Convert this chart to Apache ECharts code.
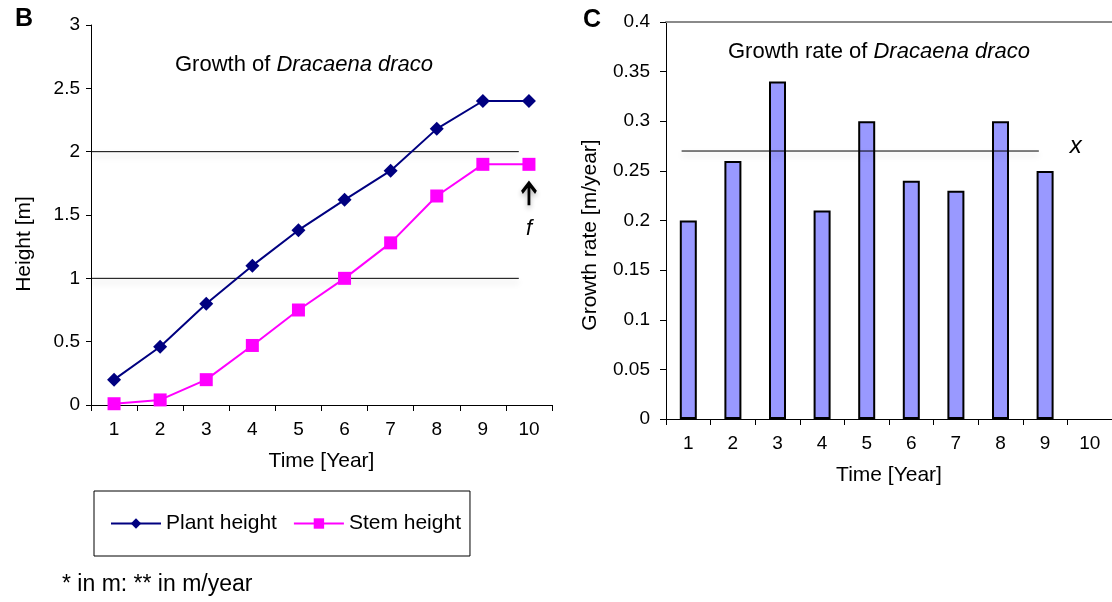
<!DOCTYPE html>
<html>
<head>
<meta charset="utf-8">
<script src="https://cdn.jsdelivr.net/npm/echarts@6/dist/echarts.min.js"></script>
<style>
html,body{margin:0;padding:0;background:#fff;}
#chart{width:1112px;height:602px;}
</style>
</head>
<body>
<div id="chart"></div>
<script>
// ---- data ----
const years = ['1','2','3','4','5','6','7','8','9','10'];
const plantHeight = [0.2, 0.46, 0.8, 1.1, 1.38, 1.62, 1.85, 2.18, 2.4, 2.4];
const stemHeight = [0.01, 0.04, 0.2, 0.47, 0.75, 1.0, 1.28, 1.65, 1.9, 1.9];
const growthRate = [0.2, 0.26, 0.34, 0.21, 0.3, 0.24, 0.23, 0.3, 0.25, null];
const heightAxis = {min: 0, max: 3, interval: 0.5};
const rateAxis = {min: 0, max: 0.4, interval: 0.05};
const heightRefLevels = [1, 2];
const heightRefSpan = [0.5, 9.78];
const rateRefLevel = 0.27;
const rateRefSpan = [0.85, 8.86];

const FONT = "'Liberation Sans', Arial, sans-serif";
const refShadow = {shadowColor: 'rgba(0,0,0,0.22)', shadowBlur: 6, shadowOffsetY: 4};

const chart = echarts.init(document.getElementById('chart'), null, {renderer: 'canvas'});

const catAxisCommon = {
  type: 'category',
  data: years,
  boundaryGap: true,
  axisLine: {lineStyle: {color: '#000', width: 1}},
  axisTick: {show: true, interval: 0, length: 6, lineStyle: {color: '#000'}},
  axisLabel: {interval: 0, color: '#000', fontSize: 19, fontFamily: FONT, margin: 15},
  nameLocation: 'middle',
  nameGap: 46,
  nameTextStyle: {color: '#000', fontSize: 21, fontFamily: FONT},
  splitLine: {show: false}
};

const option = {
  animation: false,
  backgroundColor: '#fff',
  textStyle: {fontFamily: FONT},
  grid: [
    {left: 91, top: 25, width: 461, height: 380},
    {left: 666, top: 22, width: 451, height: 397}
  ],
  xAxis: [
    Object.assign({}, catAxisCommon, {gridIndex: 0, name: 'Time [Year]'}),
    {type: 'value', gridIndex: 0, min: 0.5, max: 10.5, show: false},
    Object.assign({}, catAxisCommon, {gridIndex: 1, name: 'Time [Year]'}),
    {type: 'value', gridIndex: 1, min: 0.5, max: 10.5, position: 'top',
     axisLine: {show: true, lineStyle: {color: '#8a8a8a', width: 2}},
     axisTick: {show: false}, axisLabel: {show: false}, splitLine: {show: false}}
  ],
  yAxis: [
    {type: 'value', gridIndex: 0, min: heightAxis.min, max: heightAxis.max, interval: heightAxis.interval,
     name: 'Height [m]', nameLocation: 'middle', nameGap: 56,
     nameTextStyle: {color: '#000', fontSize: 21, fontFamily: FONT, padding: [0, 58, 0, 0]},
     axisLine: {show: true, lineStyle: {color: '#000', width: 1}},
     axisTick: {show: true, length: 5, lineStyle: {color: '#000'}},
     axisLabel: {color: '#000', fontSize: 19, fontFamily: FONT, margin: 11},
     splitLine: {show: false}},
    {type: 'value', gridIndex: 1, min: rateAxis.min, max: rateAxis.max, interval: rateAxis.interval,
     name: 'Growth rate [m/year]', nameLocation: 'middle', nameGap: 65,
     nameTextStyle: {color: '#000', fontSize: 21, fontFamily: FONT, padding: [0, 29, 0, 0]},
     axisLine: {show: true, lineStyle: {color: '#000', width: 1}},
     axisTick: {show: true, length: 6, lineStyle: {color: '#000'}},
     axisLabel: {color: '#000', fontSize: 19, fontFamily: FONT, margin: 16},
     splitLine: {show: false}}
  ],
  legend: {
    data: ['Plant height', 'Stem height'],
    left: 94, top: 491,
    orient: 'horizontal',
    padding: [22, 9, 22, 16],
    itemGap: 16,
    itemWidth: 50,
    itemHeight: 13,
    borderColor: '#000',
    borderWidth: 1,
    textStyle: {color: '#000', fontSize: 21, fontFamily: FONT}
  },
  series: [
    // reference lines in height chart
    ...heightRefLevels.map(function (lv) {
      return {
        type: 'line', xAxisIndex: 1, yAxisIndex: 0, silent: true,
        symbol: 'none', z: 1,
        lineStyle: Object.assign({color: '#000', width: 1}, refShadow),
        data: [[heightRefSpan[0], lv], [heightRefSpan[1], lv]]
      };
    }),
    {
      name: 'Plant height', type: 'line', xAxisIndex: 0, yAxisIndex: 0,
      data: plantHeight,
      symbol: 'diamond', symbolSize: 14,
      itemStyle: {color: '#000080'},
      lineStyle: {color: '#000080', width: 2}
    },
    {
      name: 'Stem height', type: 'line', xAxisIndex: 0, yAxisIndex: 0,
      data: stemHeight,
      symbol: 'rect', symbolSize: 13,
      itemStyle: {color: '#ff00ff'},
      lineStyle: {color: '#ff00ff', width: 2},
      markPoint: {
        silent: true,
        symbol: 'path://M0,9 L6,0 L12,9 M6,0 L6,22',
        symbolSize: [14, 22],
        symbolOffset: [0, 30],
        itemStyle: {color: 'rgba(0,0,0,0)', borderColor: '#000', borderWidth: 3.5,
                    shadowColor: 'rgba(0,0,0,0.3)', shadowBlur: 5, shadowOffsetY: 3},
        label: {show: true, formatter: 'f', position: 'bottom', distance: 10,
                color: '#000', fontSize: 22, fontStyle: 'italic', fontFamily: FONT},
        data: [{coord: ['10', stemHeight[9]]}]
      }
    },
    {
      name: 'Growth rate', type: 'bar', xAxisIndex: 2, yAxisIndex: 1,
      data: growthRate,
      barWidth: 17,
      itemStyle: {color: '#9999ff', borderColor: '#000', borderWidth: 2}
    },
    {
      type: 'line', xAxisIndex: 3, yAxisIndex: 1, silent: true,
      symbol: 'none', z: 3,
      lineStyle: Object.assign({color: '#000', width: 1}, refShadow),
      data: [[rateRefSpan[0], rateRefLevel], [rateRefSpan[1], rateRefLevel]],
      endLabel: {show: true, formatter: 'x', distance: 31, offset: [0, -5],
                 color: '#000', fontSize: 24, fontStyle: 'italic', fontFamily: FONT}
    }
  ],
  graphic: [
    {type: 'text', x: 24, y: 19, style: {text: 'B', font: 'bold 25px ' + FONT, fill: '#000', align: 'center', verticalAlign: 'middle'}},
    {type: 'text', x: 592, y: 20, style: {text: 'C', font: 'bold 25px ' + FONT, fill: '#000', align: 'center', verticalAlign: 'middle'}},
    {type: 'text', x: 304, y: 65, style: {
      text: '{n|Growth of }{i|Dracaena draco}', align: 'center', verticalAlign: 'middle',
      rich: {n: {fontSize: 22, fontFamily: FONT, fill: '#000', color: '#000'},
             i: {fontSize: 22, fontFamily: FONT, fontStyle: 'italic', fill: '#000', color: '#000'}}}},
    {type: 'text', x: 879, y: 52, style: {
      text: '{n|Growth rate of }{i|Dracaena draco}', align: 'center', verticalAlign: 'middle',
      rich: {n: {fontSize: 22, fontFamily: FONT, fill: '#000', color: '#000'},
             i: {fontSize: 22, fontFamily: FONT, fontStyle: 'italic', fill: '#000', color: '#000'}}}},
    {type: 'text', x: 62, y: 585, style: {text: '* in m: ** in m/year', font: '23px ' + FONT, fill: '#000', align: 'left', verticalAlign: 'middle'}}
  ]
};

chart.setOption(option);
</script>
</body>
</html>
